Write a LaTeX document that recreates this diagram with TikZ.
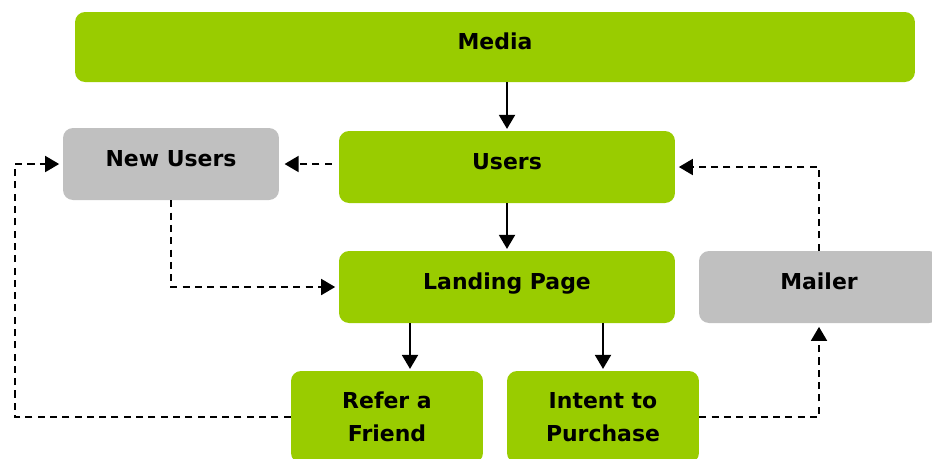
\documentclass[tikz,border=0pt]{standalone}
\usepackage{fontspec}
\setmainfont{DejaVu Sans}
\usetikzlibrary{arrows.meta, positioning, calc}
\definecolor{stepgreen}{RGB}{153, 204, 0}
\definecolor{sidegray}{RGB}{192, 192, 192}

\begin{document}
\begin{tikzpicture}[
        x=0.02cm, y=-0.02cm,
        box/.style={rectangle, rounded corners=0.2cm, draw=none, align=center, inner sep=0pt,
            font=\fontsize{12.5}{18.7}\selectfont\bfseries},
        greenbox/.style={box, fill=stepgreen},
        graybox/.style={box, fill=sidegray},
        lifted/.style={text depth=0.22cm},
        arrow/.style={-{Triangle[length=0.28cm, width=0.32cm]}, line width=1.1pt, shorten >=1pt},
        dasharrow/.style={arrow, line width=1pt, dash pattern=on 4pt off 3pt}
    ]
        \clip (0,0) rectangle (932,458);

        % Row 1: source
        \node[greenbox, lifted, minimum width=16.8cm, minimum height=1.4cm] (media) at (495,47) {Media};

        % Row 2: users
        \node[graybox, lifted, minimum width=4.32cm, minimum height=1.44cm] (newusers) at (171,164) {New Users};
        \node[greenbox, lifted, minimum width=6.72cm, minimum height=1.44cm] (users) at (507,167) {Users};

        % Row 3: landing
        \node[greenbox, lifted, minimum width=6.72cm, minimum height=1.44cm] (landing) at (507,287) {Landing Page};
        \node[graybox, lifted, minimum width=4.8cm, minimum height=1.44cm] (mailer) at (819,287) {Mailer};

        % Row 4: outcomes
        \node[greenbox, minimum width=3.84cm, minimum height=1.84cm] (refer) at (387,417) {Refer a\\Friend};
        \node[greenbox, minimum width=3.84cm, minimum height=1.84cm] (intent) at (603,417) {Intent to\\Purchase};

        \coordinate (leftrail) at (15,0);

        % Arrows
        \draw[arrow] (media.south -| users.north) -- (users.north);
        \draw[arrow] (users) -- (landing);
        \draw[arrow] ($(landing.south -| refer.north)+(23,0)$) -- ($(refer.north)+(23,0)$);
        \draw[arrow] (landing.south -| intent.north) -- (intent.north);
        \draw[dasharrow, shorten <=4pt, shorten >=3pt] (users.west |- newusers.east) -- (newusers.east);
        \draw[dasharrow, shorten >=2pt] (newusers.south) |- (landing.west);
        \draw[dasharrow, shorten >=2pt] (refer.west) -- (refer.west -| leftrail) |- (newusers.west);
        \draw[dasharrow, shorten >=2pt] (intent.east) -| (mailer.south);
        \draw[dasharrow, shorten >=2pt] (mailer.north) |- (users.east);
    \end{tikzpicture}
\end{document}
